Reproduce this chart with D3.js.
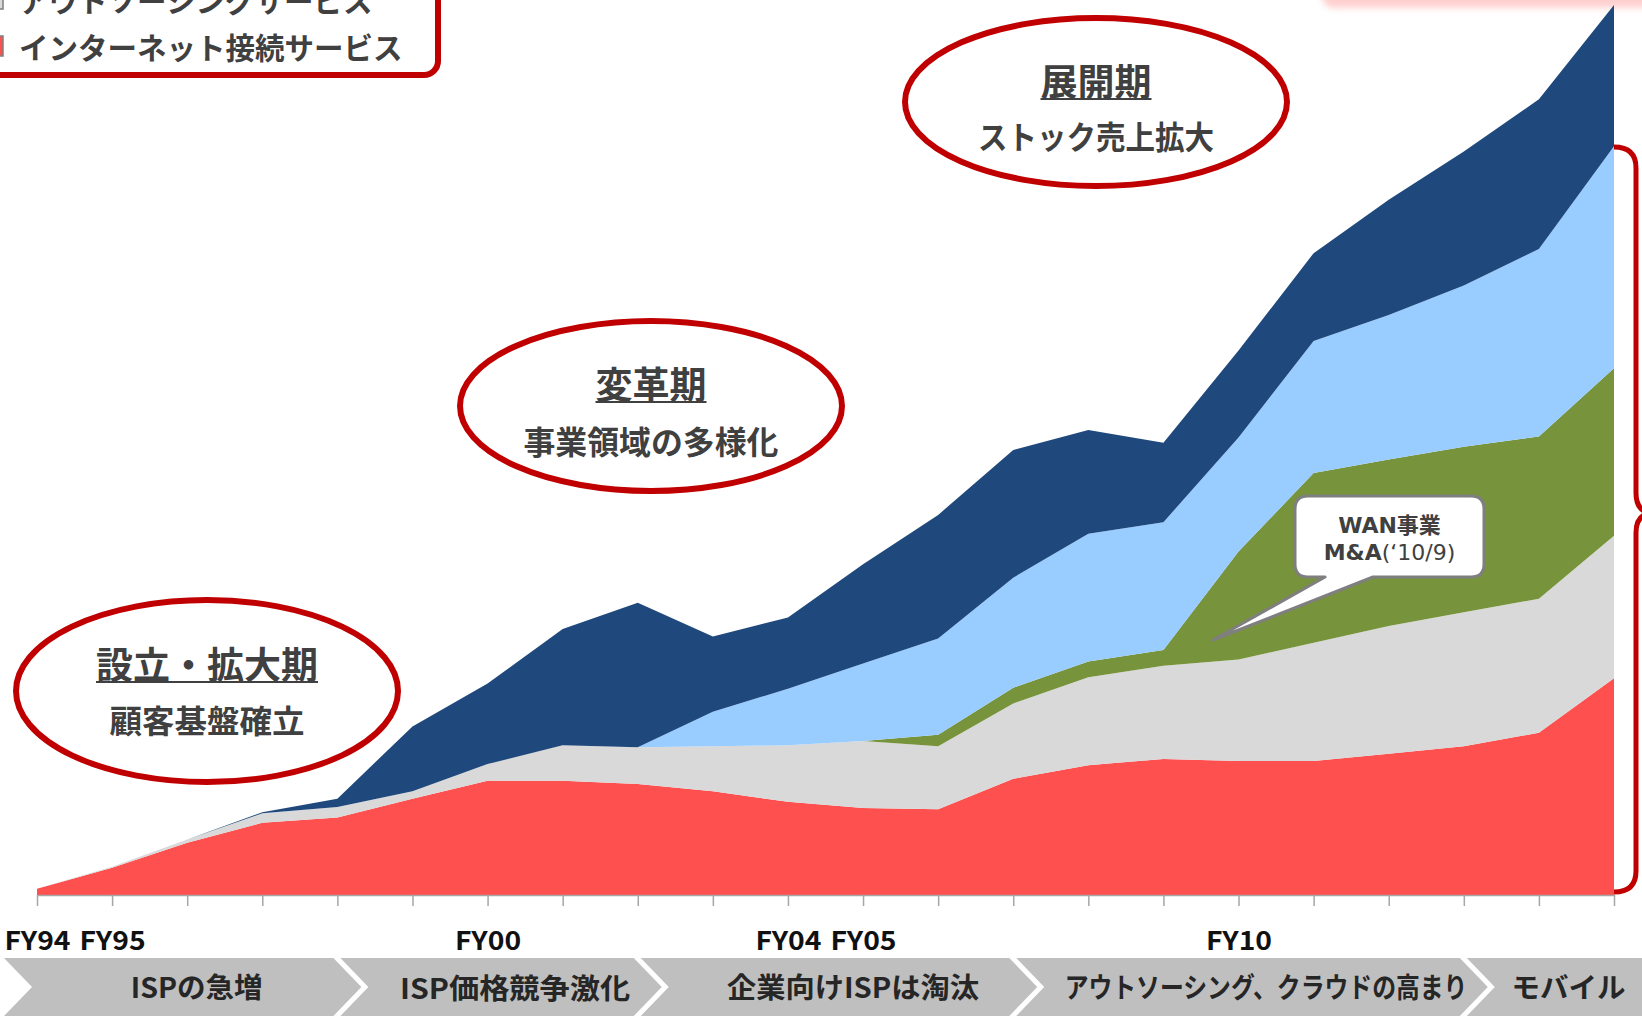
<!DOCTYPE html>
<html>
<head>
<meta charset="utf-8">
<script src="https://cdn.jsdelivr.net/npm/d3@7"></script>
<style>
body { margin: 0; background: #fff; overflow: hidden; }
svg { display: block; font-family: "Noto Sans CJK JP", "Noto Sans", sans-serif; }
</style>
</head>
<body>
<script>
var width = 1642;
var height = 1016;
var margin = {top: 5, right: 28, bottom: 121, left: 37};

// fiscal years on the x axis, only some of them are labelled
var years = ["FY94","FY95","FY96","FY97","FY98","FY99","FY00","FY01","FY02","FY03","FY04",
             "FY05","FY06","FY07","FY08","FY09","FY10","FY11","FY12","FY13","FY14","FY15"];
var shownYears = ["FY94","FY95","FY00","FY04","FY05","FY10"];

// stacked revenue layers (relative units), bottom to top
var internet    = [6, 26, 50, 69, 74, 92, 109, 109, 106, 99, 89, 83, 82, 111, 124, 130, 128, 128, 135, 142, 155, 207];
var outsourcing = [0, 1, 3, 9, 10, 7, 16, 34, 35, 43, 54, 64, 60, 72, 84, 89, 97, 113, 122, 128, 128, 136];
var wan         = [0, 0, 0, 0, 0, 0, 0, 0, 0, 0, 0, 0, 11, 15, 15, 15, 103, 162, 159, 158, 155, 160];
var siOperation = [0, 0, 0, 0, 0, 0, 0, 0, 0, 33, 54, 74, 92, 105, 122, 122, 109, 126, 138, 154, 179, 212];
var siBuild     = [0, 0, 0, 1, 8, 62, 77, 111, 138, 72, 68, 95, 118, 122, 99, 76, 83, 84, 110, 128, 143, 135];

var keys = ["internet", "outsourcing", "wan", "siOperation", "siBuild"];
var seriesNames = ["インターネット接続サービス", "アウトソーシングサービス", "WANサービス", "SI運用保守", "SI構築・機器販売"];
var colors = ["#FF5050", "#D9D9D9", "#77933C", "#99CCFF", "#1F497D"];

// phases in the bottom banner and the year where each one ends
var phases = ["ISPの急増", "ISP価格競争激化", "企業向けISPは淘汰", "アウトソーシング、クラウドの高まり", "モバイル"];
var phaseEnds = ["FY98", "FY02", "FY07", "FY13"];
var phaseTextWidth = [132, 230, 252, 403, 114];

// ellipse annotations
var stages = [
  {title: "設立・拡大期", sub: "顧客基盤確立", sw: 195, cx: 207, cy: 691, rx: 191, ry: 91, ty: 663, sy: 719},
  {title: "変革期", sub: "事業領域の多様化", sw: 255, cx: 651, cy: 406, rx: 191, ry: 85, ty: 383, sy: 440},
  {title: "展開期", sub: "ストック売上拡大", sw: 236, cx: 1096, cy: 102, rx: 191, ry: 84, ty: 80, sy: 135}
];

var table = years.map(function(y, i) {
  return {year: y, internet: internet[i], outsourcing: outsourcing[i], wan: wan[i],
          siOperation: siOperation[i], siBuild: siBuild[i]};
});

var svg = d3.select("body").append("svg")
    .attr("width", width)
    .attr("height", height);

var defs = svg.append("defs");
defs.append("filter").attr("id", "blur")
    .attr("x", "-20%").attr("y", "-100%").attr("width", "140%").attr("height", "300%")
  .append("feGaussianBlur").attr("stdDeviation", 3);

var x = d3.scalePoint()
    .domain(years)
    .range([margin.left, width - margin.right]);

var y = d3.scaleLinear()
    .domain([0, 850])
    .range([height - margin.bottom, margin.top]);

var stack = d3.stack().keys(keys);
var layers = stack(table);

var area = d3.area()
    .x(function(d) { return x(d.data.year); })
    .y0(function(d) { return y(d[0]); })
    .y1(function(d) { return y(d[1]); });

// pink shadow of a box cut off at the top right
svg.append("rect")
    .attr("x", 1322).attr("y", -30)
    .attr("width", 340).attr("height", 38)
    .attr("rx", 12)
    .style("fill", "#FFC4C4")
    .style("opacity", 0.8)
    .attr("filter", "url(#blur)");

svg.selectAll(".layer")
    .data(layers)
  .enter().append("path")
    .attr("class", "layer")
    .attr("d", area)
    .style("fill", function(d, i) { return colors[i]; });

//x axis
var xAxis = d3.axisBottom(x)
    .tickSize(11)
    .tickSizeOuter(0)
    .tickPadding(26)
    .tickFormat(function(d) { return shownYears.indexOf(d) >= 0 ? d : ""; });

var gx = svg.append("g")
    .attr("transform", "translate(0," + y(0) + ")")
    .call(xAxis);
gx.select(".domain").style("stroke", "#A6A6A6").style("stroke-width", 1.5);
gx.selectAll(".tick line").style("stroke", "#A6A6A6").style("stroke-width", 1.5);
gx.selectAll(".tick text")
    .style("font-family", "\"Noto Sans CJK JP\", sans-serif")
    .style("font-size", "26px")
    .style("font-weight", 700)
    .style("fill", "#111")
    .each(function(d) {
      if (shownYears.indexOf(d) >= 0) {
        d3.select(this).attr("textLength", 66).attr("lengthAdjust", "spacingAndGlyphs");
      }
    });

// stage ellipses
stages.forEach(function(s) {
  svg.append("ellipse")
      .attr("cx", s.cx).attr("cy", s.cy)
      .attr("rx", s.rx).attr("ry", s.ry)
      .style("fill", "#fff")
      .style("stroke", "#C00000")
      .style("stroke-width", 6);
  var t = svg.append("text")
      .attr("x", s.cx).attr("y", s.ty)
      .attr("text-anchor", "middle")
      .attr("dominant-baseline", "central")
      .style("font-size", "37px")
      .style("font-weight", 700)
      .style("fill", "#404040")
      .text(s.title);
  var tw = t.node().getComputedTextLength();
  svg.append("line")
      .attr("x1", s.cx - tw / 2).attr("x2", s.cx + tw / 2)
      .attr("y1", s.ty + 19).attr("y2", s.ty + 19)
      .style("stroke", "#404040")
      .style("stroke-width", 2);
  svg.append("text")
      .attr("x", s.cx).attr("y", s.sy)
      .attr("text-anchor", "middle")
      .attr("dominant-baseline", "central")
      .attr("textLength", s.sw)
      .attr("lengthAdjust", "spacingAndGlyphs")
      .style("font-size", "32px")
      .style("font-weight", 700)
      .style("fill", "#404040")
      .text(s.sub);
});

// callout for the WAN M&A
var cb = {x: 1295, y: 496, w: 189, h: 81, r: 13};
var tip = [1213, 640];
var callout = "M" + (cb.x + cb.r) + "," + cb.y +
  " H" + (cb.x + cb.w - cb.r) + " Q" + (cb.x + cb.w) + "," + cb.y + " " + (cb.x + cb.w) + "," + (cb.y + cb.r) +
  " V" + (cb.y + cb.h - cb.r) + " Q" + (cb.x + cb.w) + "," + (cb.y + cb.h) + " " + (cb.x + cb.w - cb.r) + "," + (cb.y + cb.h) +
  " H1373 L" + tip[0] + "," + tip[1] + " L1325," + (cb.y + cb.h) +
  " H" + (cb.x + cb.r) + " Q" + cb.x + "," + (cb.y + cb.h) + " " + cb.x + "," + (cb.y + cb.h - cb.r) +
  " V" + (cb.y + cb.r) + " Q" + cb.x + "," + cb.y + " " + (cb.x + cb.r) + "," + cb.y + " Z";
svg.append("path")
    .attr("d", callout)
    .style("fill", "#fff")
    .style("stroke", "#7F7F7F")
    .style("stroke-width", 3)
    .style("stroke-linejoin", "round");
svg.append("text")
    .attr("x", cb.x + cb.w / 2).attr("y", 525)
    .attr("text-anchor", "middle")
    .attr("dominant-baseline", "central")
    .style("font-family", "\"DejaVu Sans\", \"Noto Sans CJK JP\", sans-serif")
    .style("font-size", "22px").style("font-weight", 700).style("fill", "#404040")
    .text("WAN事業");
var ma = svg.append("text")
    .attr("x", cb.x + cb.w / 2).attr("y", 552)
    .attr("text-anchor", "middle")
    .attr("dominant-baseline", "central")
    .style("font-family", "\"DejaVu Sans\", \"Noto Sans CJK JP\", sans-serif")
    .style("font-size", "22px").style("fill", "#404040");
ma.append("tspan").style("font-weight", 700).text("M&A");
ma.append("tspan").style("font-weight", 400).text("(\u201810/9)");

// right hand brace
svg.append("path")
    .attr("d", "M1614,147 Q1636,147 1636,168 L1636,493 Q1636,513 1654,513 Q1636,513 1636,533 L1636,871 Q1636,892 1614,892")
    .style("fill", "none")
    .style("stroke", "#C00000")
    .style("stroke-width", 5);

// legend box, cut off at the top left
svg.append("rect")
    .attr("x", -30).attr("y", -40)
    .attr("width", 468).attr("height", 115)
    .attr("rx", 14)
    .style("fill", "#fff")
    .style("stroke", "#C00000")
    .style("stroke-width", 6);
var legendRows = [1, 0];
legendRows.forEach(function(k, i) {
  var cy = -1 + i * 47;
  svg.append("rect")
      .attr("x", -14).attr("y", cy - 10)
      .attr("width", 17).attr("height", 20)
      .style("fill", colors[k])
      .style("stroke", "#7F7F7F")
      .style("stroke-width", 1.5);
  svg.append("text")
      .attr("x", 19).attr("y", cy)
      .attr("dominant-baseline", "central")
      .style("font-size", "29.5px")
      .style("font-weight", 700)
      .style("fill", "#404040")
      .text(seriesNames[k]);
});

// bottom banner of chevrons
var bTop = 958, bBot = 1016, depth = 28, gap = 7;
var bMid = (bTop + bBot) / 2;
var lefts = [4];
var rights = [];
phaseEnds.forEach(function(e) {
  var r = x(e) - 4;
  rights.push(r);
  lefts.push(r + gap);
});
rights.push(width + 10);
var banner = svg.append("g");
phases.forEach(function(p, i) {
  var l = lefts[i], r = rights[i];
  var pts = [[l, bTop], [r, bTop], [r + depth, bMid], [r, bBot], [l, bBot], [l + depth, bMid]];
  banner.append("path")
      .attr("d", d3.line()(pts) + "Z")
      .style("fill", "#BFBFBF");
  var cx = i < phases.length - 1 ? (l + depth + r + depth) / 2 : (l + depth + width) / 2;
  // condensed look: squeeze the label horizontally to the measured width
  var g = banner.append("g").attr("transform", "translate(" + cx + "," + (bMid - 1) + ")");
  var t = g.append("text")
      .attr("text-anchor", "middle")
      .attr("dominant-baseline", "central")
      .style("font-size", "28px")
      .style("font-weight", 700)
      .style("fill", "#262626")
      .text(p);
  var sx = phaseTextWidth[i] / t.node().getComputedTextLength();
  t.attr("transform", "scale(" + sx + ",1)");
});
</script>
</body>
</html>
